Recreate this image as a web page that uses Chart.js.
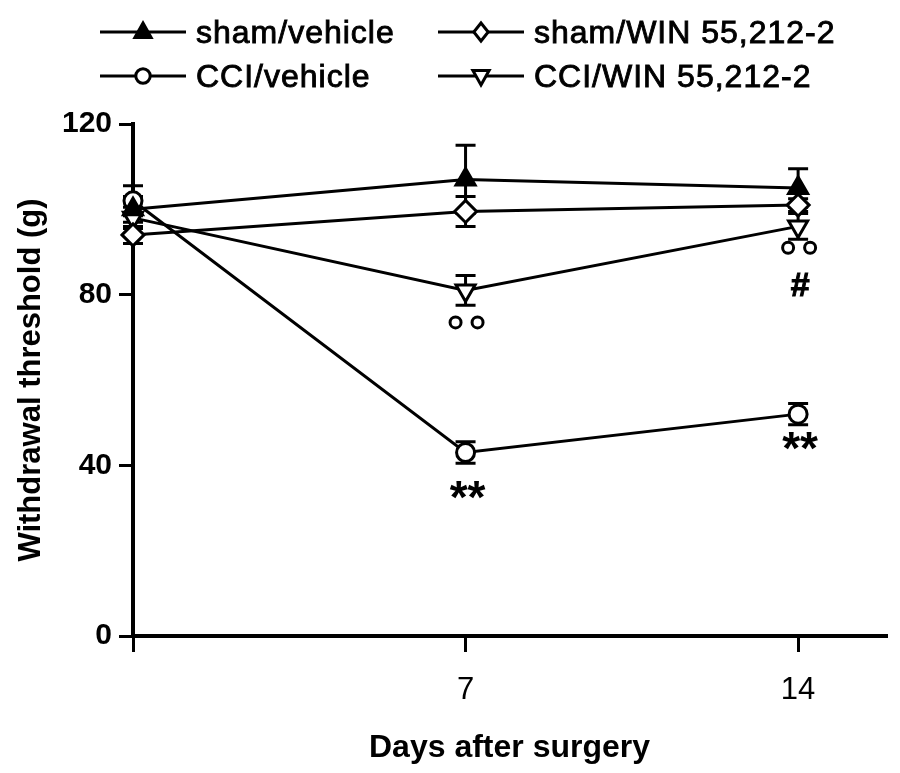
<!DOCTYPE html>
<html>
<head>
<meta charset="utf-8">
<script src="https://cdn.jsdelivr.net/npm/chart.js@4"></script>
<style>
  html,body{margin:0;padding:0;background:#fff;}
  #wrap{width:900px;height:773px;position:relative;}
</style>
</head>
<body>
<div id="wrap"><canvas id="myChart" width="900" height="773"></canvas></div>
<script>
// days after surgery
var days = [0, 7, 14]
var yTicks = [0, 40, 80, 120]

// withdrawal threshold (g), mean and error
var shamVehicle = [100, 107, 105]
var shamVehicleErr = [3, 8, 4.5]
var shamWin = [94, 99.5, 101]
var shamWinErr = [2, 3.5, 1.5]
var cciVehicle = [102, 43, 52]
var cciVehicleErr = [3.5, 2.5, 2.5]
var cciWin = [98, 81, 96]
var cciWinErr = [2.5, 3.5, 3]

var seriesNames = ["sham/vehicle", "sham/WIN 55,212-2", "CCI/vehicle", "CCI/WIN 55,212-2"]

// significance marks: [day, value, text]
var marks = [
  [7, 73.5, "oo"],
  [14, 91, "oo"],
  [14, 82, "#"],
  [7, 34, "**"],
  [14, 45.5, "**"]
]

var FONT = "'Liberation Sans', Arial, sans-serif"

function pts(vals) {
  return vals.map(function (v, i) { return { x: days[i], y: v } })
}

function drawMarker(ctx, kind, x, y, r) {
  ctx.save()
  ctx.lineWidth = 3
  ctx.strokeStyle = "#000"
  ctx.beginPath()
  if (kind == "tri") {
    ctx.moveTo(x, y - r)
    ctx.lineTo(x + r * 0.9, y + r * 0.6)
    ctx.lineTo(x - r * 0.9, y + r * 0.6)
    ctx.closePath()
    ctx.fillStyle = "#000"
  } else if (kind == "dia") {
    ctx.moveTo(x, y - r)
    ctx.lineTo(x + r * 0.8, y)
    ctx.lineTo(x, y + r)
    ctx.lineTo(x - r * 0.8, y)
    ctx.closePath()
    ctx.fillStyle = "#fff"
  } else if (kind == "circ") {
    ctx.arc(x, y, r * 0.8, 0, Math.PI * 2)
    ctx.fillStyle = "#fff"
  } else {
    ctx.moveTo(x, y + r)
    ctx.lineTo(x + r * 0.9, y - r * 0.6)
    ctx.lineTo(x - r * 0.9, y - r * 0.6)
    ctx.closePath()
    ctx.fillStyle = "#fff"
  }
  ctx.fill()
  ctx.stroke()
  ctx.restore()
}

var errorBars = {
  id: "errorBars",
  beforeDatasetsDraw: function (chart) {
    var ctx = chart.ctx
    var xs = chart.scales.x, ys = chart.scales.y
    ctx.save()
    ctx.strokeStyle = "#000"
    ctx.lineWidth = 3
    chart.data.datasets.forEach(function (ds) {
      ds.data.forEach(function (p, i) {
        var e = ds.err[i]
        var px = xs.getPixelForValue(p.x)
        var top = ys.getPixelForValue(p.y + e)
        var bot = ys.getPixelForValue(p.y - e)
        ctx.beginPath()
        ctx.moveTo(px, top); ctx.lineTo(px, bot)
        ctx.moveTo(px - 10, top); ctx.lineTo(px + 10, top)
        ctx.moveTo(px - 10, bot); ctx.lineTo(px + 10, bot)
        ctx.stroke()
      })
    })
    ctx.restore()
  }
}

var extras = {
  id: "extras",
  afterDraw: function (chart) {
    var ctx = chart.ctx
    var xs = chart.scales.x, ys = chart.scales.y
    // significance marks
    ctx.save()
    ctx.fillStyle = "#000"
    ctx.strokeStyle = "#000"
    marks.forEach(function (m) {
      var px = xs.getPixelForValue(m[0])
      var py = ys.getPixelForValue(m[1])
      ctx.textAlign = "center"
      ctx.textBaseline = "middle"
      if (m[2] == "oo") {
        ctx.lineWidth = 3
        ;[-10, 12].forEach(function (dx) {
          ctx.beginPath()
          ctx.arc(px + dx, py, 5.5, 0, Math.PI * 2)
          ctx.stroke()
        })
      } else if (m[2] == "**") {
        ctx.font = "bold 46px " + FONT
        ctx.fillText(m[2], px + 2, py + 9)
      } else {
        ctx.font = "bold 34px " + FONT
        ctx.fillText(m[2], px + 2, py)
        ctx.lineWidth = 1
        ctx.strokeText(m[2], px + 2, py)
      }
    })
    ctx.restore()

    // legend
    var kinds = ["tri", "dia", "circ", "inv"]
    var spots = [[100, 32], [438, 32], [100, 76], [438, 76]]
    ctx.save()
    ctx.font = "32px " + FONT
    ctx.textBaseline = "middle"
    ctx.textAlign = "left"
    ctx.fillStyle = "#000"
    ctx.strokeStyle = "#000"
    if ("letterSpacing" in ctx) ctx.letterSpacing = "1px"
    seriesNames.forEach(function (name, i) {
      var x = spots[i][0], y = spots[i][1]
      ctx.lineWidth = 3
      ctx.beginPath()
      ctx.moveTo(x, y); ctx.lineTo(x + 86, y)
      ctx.stroke()
      drawMarker(ctx, kinds[i], x + 43, y, 9)
      ctx.fillText(name, x + 96, y + 2)
      ctx.lineWidth = 0.9
      ctx.strokeText(name, x + 96, y + 2)
    })
    ctx.restore()
  }
}

function ds(label, vals, err, style, rot, fill) {
  return {
    label: label,
    data: pts(vals),
    err: err,
    borderColor: "#000",
    borderWidth: 3,
    pointStyle: style,
    rotation: rot,
    pointRadius: style == "circle" ? 9 : 11,
    pointBorderWidth: 3,
    pointBackgroundColor: fill,
    pointBorderColor: "#000",
    tension: 0,
    clip: false
  }
}

var ctx = document.getElementById("myChart").getContext("2d")
var myChart = new Chart(ctx, {
  type: "line",
  data: {
    datasets: [
      ds(seriesNames[0], shamVehicle, shamVehicleErr, "triangle", 0, "#000"),
      ds(seriesNames[1], shamWin, shamWinErr, "rectRot", 0, "#fff"),
      ds(seriesNames[2], cciVehicle, cciVehicleErr, "circle", 0, "#fff"),
      ds(seriesNames[3], cciWin, cciWinErr, "triangle", 180, "#fff")
    ]
  },
  options: {
    responsive: false,
    animation: false,
    layout: { padding: { top: 124, left: 0, right: 13, bottom: 0 } },
    plugins: { legend: { display: false }, tooltip: { enabled: false } },
    scales: {
      x: {
        type: "linear",
        min: 0,
        max: 15.85,
        afterBuildTicks: function (s) { s.ticks = days.map(function (d) { return { value: d } }) },
        afterFit: function (s) { s.height = 137 },
        ticks: {
          color: "#000",
          padding: 20,
          font: { family: FONT, size: 31 },
          callback: function (v) { return v === 0 ? "" : v }
        },
        grid: { drawOnChartArea: false, tickLength: 16, lineWidth: 3, color: "#000" },
        border: { width: 4, color: "#000" },
        title: {
          display: true,
          text: "Days after surgery",
          color: "#000",
          font: { family: FONT, size: 32, weight: "bold" },
          padding: { top: 0, bottom: 6 }
        }
      },
      y: {
        min: 0,
        max: 120,
        afterBuildTicks: function (s) { s.ticks = yTicks.map(function (v) { return { value: v } }) },
        afterFit: function (s) { s.width = 133 },
        ticks: {
          color: "#000",
          padding: 7,
          font: { family: FONT, size: 30, weight: "bold" }
        },
        grid: { drawOnChartArea: false, tickLength: 14, lineWidth: 3, color: "#000" },
        border: { width: 4, color: "#000" },
        title: {
          display: true,
          text: "Withdrawal threshold (g)",
          color: "#000",
          font: { family: FONT, size: 31, weight: "bold" },
          padding: { top: 13, bottom: 0 }
        }
      }
    }
  },
  plugins: [errorBars, extras]
})
</script>
</body>
</html>
